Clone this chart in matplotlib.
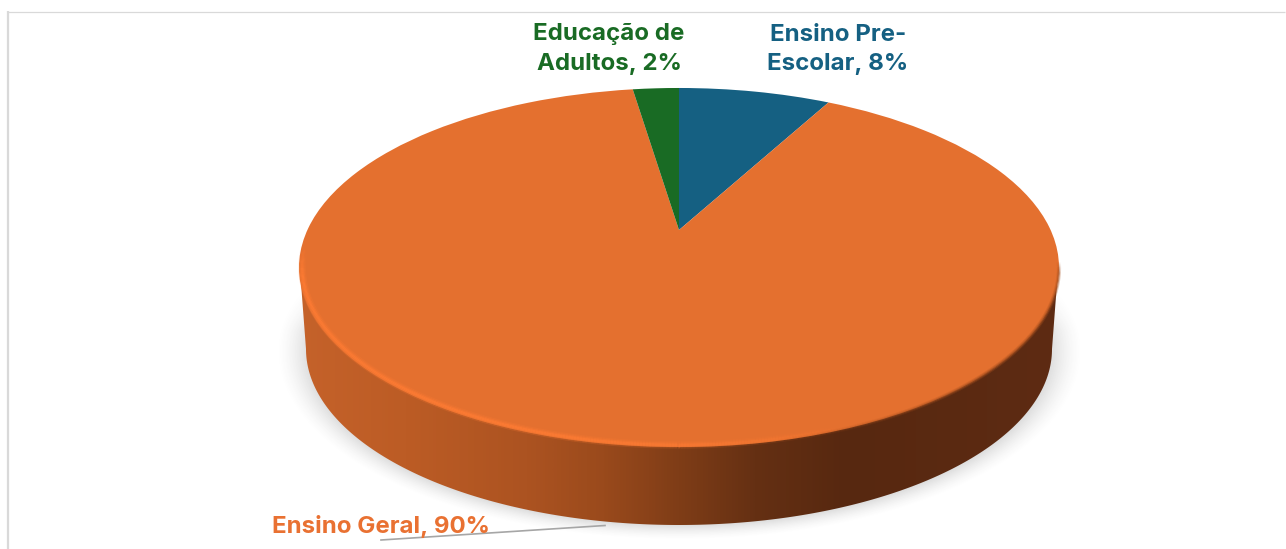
import numpy as np
import matplotlib
matplotlib.use("Agg")
import matplotlib.pyplot as plt
from matplotlib.transforms import Transform
from matplotlib.collections import LineCollection
from matplotlib.colors import LinearSegmentedColormap

categories = ["Ensino Pre-\nEscolar", "Ensino Geral", "Educação de\nAdultos"]
values = [7.9, 89.7, 2.4]
slice_colors = ["#156082", "#E4702F", "#196B24"]
label_colors = ["#156082", "#E97132", "#196B24"]

W, H = 1286, 549
plt.rcParams["font.family"] = ["Inter", "DejaVu Sans"]


class Persp(Transform):
    """Tilted-disc projection of the unit pie onto pixel coordinates."""
    input_dims = 2
    output_dims = 2
    has_inverse = False
    is_separable = False

    def transform_non_affine(self, xy):
        xy = np.asarray(xy, float)
        w = 1 + 0.209 * xy[:, 1]
        return np.column_stack((679 + 371.6 * xy[:, 0] / w, 230 - 171.7 * xy[:, 1] / w))


fig = plt.figure(figsize=(W / 100, H / 100), dpi=100, facecolor="white")
ax = fig.add_axes([0, 0, 1, 1])

wedges, _ = ax.pie(values, colors=slice_colors, startangle=90, counterclock=False,
                   wedgeprops={"linewidth": 0})
persp = Persp() + ax.transData
for w in wedges:
    w.set_transform(persp)
    w.set_zorder(5)
    w.set_antialiased(True)

ax.set_aspect("auto")
ax.set_xlim(0, W)
ax.set_ylim(H, 0)
ax.axis("off")

# frame of the chart area
ax.plot([8, 8], [11, H], color="#D9D9D9", lw=1.6, zorder=1, solid_capstyle="butt")
ax.plot([8, W - 1], [11.5, 11.5], color="#D9D9D9", lw=0.9, zorder=1, solid_capstyle="butt")

# soft shadow under the disc
yy, xx = np.mgrid[0:H, 0:W]
r = np.hypot((xx - 679) / 372.0, (yy - 351) / 174.0)
d = (r - 1) * 175
a = np.clip(1 - d / 15, 0, 1) ** 1.6 * 0.17
a *= np.clip((yy - 275) / 55, 0, 1)
rgba = np.zeros((H, W, 4))
rgba[..., :3] = 0.25
rgba[..., 3] = a
ax.imshow(rgba, extent=(0, W, H, 0), zorder=2, aspect="auto", interpolation="bilinear")

# side wall
t = np.linspace(np.pi, 0, 240)
bx = 679 + 373 * np.cos(t)
by = 349 + 176 * np.sin(t)
wall = np.vstack(([[300, 270]], np.column_stack((bx, by)), [[1058, 270]]))
cmap = LinearSegmentedColormap.from_list("wall", [
    (0.0, "#C5622A"), (0.14, "#BC5C25"), (0.30, "#AC5321"), (0.40, "#9A4A1C"),
    (0.50, "#7F3D17"), (0.60, "#653013"), (0.72, "#572810"), (1.0, "#5E2B13")])
grad = np.linspace(0, 1, 512).reshape(1, -1)
im = ax.imshow(grad, cmap=cmap, extent=(299, 1059, 540, 230), aspect="auto", zorder=3)
patch = plt.Polygon(wall, closed=True, transform=ax.transData, fc="none", ec="none")
ax.add_patch(patch)
im.set_clip_path(patch)
ax.set_xlim(0, W)
ax.set_ylim(H, 0)

# bevel highlight / edge shading along the front rim
th = np.linspace(np.pi, 2 * np.pi, 500)
rim = Persp().transform_non_affine(np.column_stack((0.992 * np.cos(th), 0.992 * np.sin(th))))
segs = np.stack((rim[:-1], rim[1:]), axis=1)
mx = segs[:, :, 0].mean(axis=1)
my = segs[:, :, 1].mean(axis=1)
hi = np.clip((840 - mx) / 300, 0, 1) ** 0.6 * np.clip((my - 245) / 30, 0, 1)
for lw, alpha in [(5.5, 0.22), (3.5, 0.4), (1.8, 0.65)]:
    c = np.zeros((len(segs), 4))
    c[:, :3] = matplotlib.colors.to_rgb("#FF7C34")
    c[:, 3] = hi * alpha
    ax.add_collection(LineCollection(segs, colors=c, linewidths=lw, zorder=6, capstyle="butt"))
rim2 = Persp().transform_non_affine(np.column_stack((np.cos(th), np.sin(th))))
segs2 = np.stack((rim2[:-1], rim2[1:]), axis=1)
mx2 = segs2[:, :, 0].mean(axis=1)
my2 = segs2[:, :, 1].mean(axis=1)
lo = np.clip((mx2 - 780) / 200, 0, 1) * np.clip((my2 - 262) / 10, 0, 1)
for lw, alpha in [(3.0, 0.3), (1.5, 0.6)]:
    c = np.zeros((len(segs2), 4))
    c[:, :3] = matplotlib.colors.to_rgb("#A8501F")
    c[:, 3] = lo * alpha
    ax.add_collection(LineCollection(segs2, colors=c, linewidths=lw, zorder=6, capstyle="butt"))

# leader line
ax.plot([381, 605], [540, 525.5], color="#A6A6A6", lw=1.2, zorder=7)

# data labels
label_pos = [(838, 49.5, "center"), (272, 527, "left"), (609, 49, "center")]
for cat, v, col, (x, y, ha) in zip(categories, values, label_colors, label_pos):
    ax.text(x, y, f"{cat}, {round(v)}%", color=col, fontsize=17.3, fontweight="bold",
            ha=ha, va="center", multialignment="center", linespacing=1.42, zorder=8)

fig.savefig("out.png", dpi=100, facecolor="white")
